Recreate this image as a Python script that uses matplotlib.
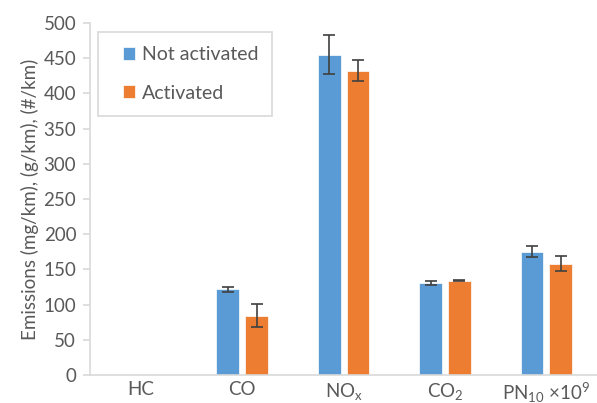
import matplotlib.pyplot as plt
from matplotlib.patches import Rectangle
import numpy as np

plt.rcParams['font.family'] = ['Lato', 'DejaVu Sans']
plt.rcParams['mathtext.default'] = 'regular'

categories = ['HC', 'CO', 'NO$_x$', 'CO$_2$', 'PN$_{10}$ ×10$^9$']
not_activated = [0, 122, 455, 131, 175]
not_activated_err = [0, 3.5, 28, 2.5, 8]
activated = [0, 84, 432, 134, 158]
activated_err = [0, 16.5, 15, 1, 11]

blue = '#5B9BD5'
orange = '#ED7D31'
text_col = '#595959'
axis_col = '#D9D9D9'
fs = 13.5

fig = plt.figure(figsize=(5.97, 4.03), dpi=100)
ax = fig.add_axes([0.151, 0.0695, 0.849, 0.8735])

x = np.arange(len(categories))
w = 0.225
off = 0.142
err_kw = dict(ecolor='#404040', elinewidth=1.2, capsize=4, capthick=1.2)

# HC has no data, so skip zero bars
mask = np.array(not_activated) > 0
ax.bar(x[mask] - off, np.array(not_activated)[mask], w, color=blue,
       yerr=np.array(not_activated_err)[mask], error_kw=err_kw,
       edgecolor='white', linewidth=0.5, label='Not activated')
mask = np.array(activated) > 0
ax.bar(x[mask] + off, np.array(activated)[mask], w, color=orange,
       yerr=np.array(activated_err)[mask], error_kw=err_kw,
       edgecolor='white', linewidth=0.5, label='Activated')

ax.set_xlim(-0.5, 4.5)
ax.set_ylim(0, 500)
ax.set_yticks(range(0, 501, 50))
ax.set_xticks(x)
ax.set_xticklabels(categories)

for s in ['top', 'right']:
    ax.spines[s].set_visible(False)
for s in ['left', 'bottom']:
    ax.spines[s].set_color(axis_col)
    ax.spines[s].set_linewidth(1.2)

ax.tick_params(axis='y', colors=axis_col, labelcolor=text_col, labelsize=fs,
               length=5, width=1.2, pad=5)
ax.tick_params(axis='x', length=0, labelcolor=text_col, labelsize=fs, pad=4)

ax.set_ylabel('Emissions (mg/km), (g/km), (#/km)', color=text_col, fontsize=fs,
              labelpad=3)

# legend box drawn separately so its padding matches the original
ax.add_patch(Rectangle((0.0158, 0.736), 0.343, 0.238, transform=ax.transAxes,
                       facecolor='white', edgecolor=axis_col, linewidth=1.2,
                       zorder=4))
leg = ax.legend(loc='center left', bbox_to_anchor=(0.064, 0.855), fontsize=fs + 0.5,
                frameon=False, handlelength=0.65, handleheight=0.65,
                labelspacing=1.1, borderpad=0, handletextpad=0.35,
                borderaxespad=0)
leg.set_zorder(5)
for t in leg.get_texts():
    t.set_color(text_col)

fig.savefig('out.png', dpi=100)
